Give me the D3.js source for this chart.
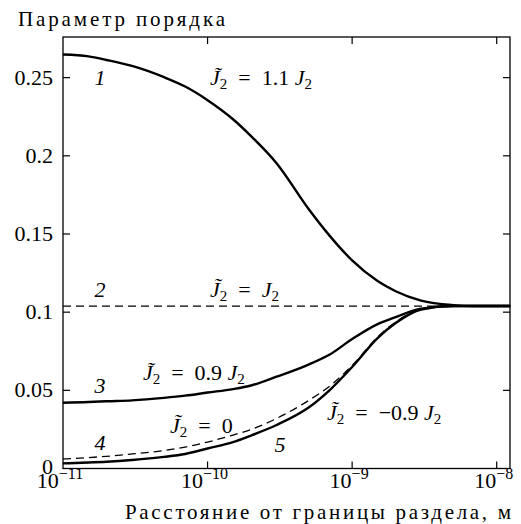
<!DOCTYPE html>
<html>
<head>
<meta charset="utf-8">
<script src="https://cdn.jsdelivr.net/npm/d3@7"></script>
</head>
<body style="margin:0">
<svg id="chart" width="521" height="524" font-family="Liberation Serif"></svg>
<script>
// distances, m (shared grid for all curves)
var distances = [1e-11, 1.5e-11, 2e-11, 3e-11, 5e-11, 7e-11, 1e-10, 1.5e-10, 2e-10, 3e-10,
                 5e-10, 7e-10, 1e-9, 1.5e-9, 2e-9, 3e-9, 5e-9, 7e-9, 1e-8, 1.24e-8];
// order parameter for each curve
var curve1 = [0.2648, 0.2636, 0.2613, 0.2575, 0.2503, 0.2443, 0.2356, 0.2234, 0.2126, 0.1953,
              0.1660, 0.1488, 0.1331, 0.1199, 0.1134, 0.1074, 0.1045, 0.1039, 0.1039, 0.1039];
var curve2 = [0.1039, 0.1039, 0.1039, 0.1039, 0.1039, 0.1039, 0.1039, 0.1039, 0.1039, 0.1039,
              0.1039, 0.1039, 0.1039, 0.1039, 0.1039, 0.1039, 0.1039, 0.1039, 0.1039, 0.1039];
var curve3 = [0.0421, 0.0425, 0.0430, 0.0436, 0.0452, 0.0466, 0.0486, 0.0508, 0.0531, 0.0587,
              0.0665, 0.0729, 0.0828, 0.0924, 0.0969, 0.1023, 0.1039, 0.1039, 0.1039, 0.1039];
var curve4 = [0.0061, 0.0070, 0.0078, 0.0093, 0.0115, 0.0137, 0.0169, 0.0214, 0.0249, 0.0320,
              0.0435, 0.0527, 0.0659, 0.0841, 0.0937, 0.1020, 0.1039, 0.1039, 0.1039, 0.1039];
var curve5 = [0.0033, 0.0038, 0.0043, 0.0054, 0.0074, 0.0093, 0.0128, 0.0169, 0.0211, 0.0278,
              0.0390, 0.0502, 0.0649, 0.0834, 0.0930, 0.1017, 0.1039, 0.1039, 0.1039, 0.1039];

var yTicks = [0, 0.05, 0.1, 0.15, 0.2, 0.25];
var yTickLabels = ['0', '0.05', '0.1', '0.15', '0.2', '0.25'];
var xTicks = [1e-11, 1e-10, 1e-9, 1e-8];
var xTickExponents = ['\u221211', '\u221210', '\u22129', '\u22128'];

// curve numbers (data coords of the label baseline)
var numberLabels = [
  { t: '1', x: 1.8e-11, y: 0.2452 },
  { t: '2', x: 1.8e-11, y: 0.1097 },
  { t: '3', x: 1.8e-11, y: 0.0483 },
  { t: '4', x: 1.8e-11, y: 0.0118 },
  { t: '5', x: 3.17e-10, y: 0.0108 }
];
// J2 tilde labels: right-hand side, start position (data coords)
var formulaLabels = [
  { rhs: '1.1', x: 1.04e-10, y: 0.2452, J: true },
  { rhs: '',    x: 1.04e-10, y: 0.1097, J: true },
  { rhs: '0.9', x: 3.57e-11, y: 0.0563, J: true },
  { rhs: '0',   x: 5.5e-11,  y: 0.0227, J: false },
  { rhs: '\u22120.9', x: 6.7e-10, y: 0.0310, J: true }
];

var margin = { top: 37, right: 11, bottom: 55.5, left: 63 },
  W = 521, H = 524,
  width = W - margin.left - margin.right,
  height = H - margin.top - margin.bottom,
  fontSize = 22,
  serif = '"Liberation Serif", "Times New Roman", serif';

var svg = d3.select('#chart');
var g = svg.append('g').attr('transform', 'translate(' + margin.left + ',' + margin.top + ')');

var x = d3.scaleLog().domain([1e-11, 1.236e-8]).range([0, width]),
  y = d3.scaleLinear().domain([0, 0.276]).range([height, 0]);

var tickLen = 7;
// y ticks, inward on both sides
yTicks.forEach(function(v) {
  if (v === 0) return;
  g.append('line').attr('x1', 0).attr('x2', tickLen).attr('y1', y(v)).attr('y2', y(v))
    .attr('stroke', '#000').attr('stroke-width', 1.2);
  g.append('line').attr('x1', width).attr('x2', width - tickLen).attr('y1', y(v)).attr('y2', y(v))
    .attr('stroke', '#000').attr('stroke-width', 1.2);
});
g.selectAll('.ylab').data(yTicks).enter().append('text')
  .attr('class', 'ylab')
  .attr('x', -10)
  .attr('y', function(d) { return y(d) + (d === 0 ? 5 : 7); })
  .attr('text-anchor', 'end')
  .attr('font-size', fontSize)
  .text(function(d, i) { return yTickLabels[i]; });

// x ticks, inward top and bottom
xTicks.forEach(function(v, i) {
  if (i === 0) return;
  g.append('line').attr('x1', x(v)).attr('x2', x(v)).attr('y1', height).attr('y2', height - tickLen)
    .attr('stroke', '#000').attr('stroke-width', 1.2);
  g.append('line').attr('x1', x(v)).attr('x2', x(v)).attr('y1', 0).attr('y2', tickLen)
    .attr('stroke', '#000').attr('stroke-width', 1.2);
});
var xl = g.selectAll('.xlab').data(xTicks).enter().append('text')
  .attr('class', 'xlab')
  .attr('x', function(d) { return x(d) - 3; })
  .attr('y', height + 19)
  .attr('text-anchor', 'middle')
  .attr('font-size', fontSize);
xl.append('tspan').text('10');
xl.append('tspan').attr('dy', -9).attr('font-size', 16)
  .text(function(d, i) { return xTickExponents[i]; });

// curves
var line = d3.line()
  .x(function(d, i) { return x(distances[i]); })
  .y(function(d) { return y(d); })
  .curve(d3.curveMonotoneX);

var curves = [
  { v: curve2, dash: true },
  { v: curve4, dash: true },
  { v: curve1 },
  { v: curve3 },
  { v: curve5 }
];
curves.forEach(function(c) {
  g.append('path')
    .datum(c.v)
    .attr('d', line)
    .attr('fill', 'none')
    .attr('stroke', '#000')
    .attr('stroke-width', c.dash ? 1.3 : 2.4)
    .attr('stroke-dasharray', c.dash ? '8,5' : null);
});

// frame on top
g.append('rect')
  .attr('width', width).attr('height', height)
  .attr('fill', 'none').attr('stroke', '#000').attr('stroke-width', 1.3);

// curve numbers
g.selectAll('.num').data(numberLabels).enter().append('text')
  .attr('x', function(d) { return x(d.x); })
  .attr('y', function(d) { return y(d.y); })
  .attr('text-anchor', 'middle')
  .attr('font-style', 'italic')
  .attr('font-size', fontSize)
  .text(function(d) { return d.t; });

// formulas: J~2 = ... J2
formulaLabels.forEach(function(f) {
  var t = g.append('text')
    .attr('x', x(f.x))
    .attr('y', y(f.y))
    .attr('font-size', fontSize);
  t.append('tspan').attr('font-style', 'italic').text('J\u0303');
  t.append('tspan').attr('font-size', 15).attr('dy', 4).text('2');
  t.append('tspan').attr('dy', -4).text('\u2002=\u2002' + f.rhs + (f.rhs && f.J ? '\u2005' : ''));
  if (f.J) {
    t.append('tspan').attr('font-style', 'italic').text('J');
    t.append('tspan').attr('font-size', 15).attr('dy', 4).text('2');
  }
});

// titles
svg.append('text')
  .attr('x', 18).attr('y', 26)
  .attr('font-size', 21)
  .attr('textLength', 207)
  .attr('lengthAdjust', 'spacing')
  .text('Параметр порядка');
svg.append('text')
  .attr('x', 125).attr('y', 519)
  .attr('font-size', 21)
  .attr('textLength', 386)
  .attr('lengthAdjust', 'spacing')
  .text('Расстояние от границы раздела, м');

// serif face everywhere, forced
svg.selectAll('text, tspan')
  .attr('font-family', 'Liberation Serif')
  .style('font-family', serif, 'important');
</script>
</body>
</html>
